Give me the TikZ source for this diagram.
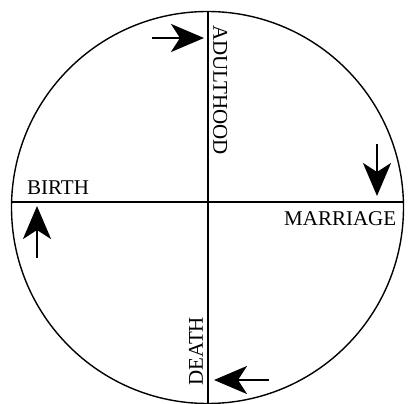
\documentclass[tikz,border=0pt]{standalone}
\usepackage{fontspec}
\setmainfont{Liberation Serif}
\usetikzlibrary{arrows.meta}
\begin{document}
\begin{tikzpicture}[x=1pt,y=1pt,
  ring/.style={line width=1.4pt},
  axis/.style={line width=1.3pt},
  bigarrow/.style={line width=2.4pt,-{Stealth[length=33pt,width=28pt,inset=9pt]}},
  lab/.style={font=\fontsize{21}{21}\selectfont,inner sep=0pt}]
\useasboundingbox (0,0) rectangle (408,-404);
\coordinate (c) at (207.5,-207.5);
\draw[ring] (c) circle (196);
% axes
\coordinate (top) at (208,-11.5);
\coordinate (bot) at (208,-403.5);
\coordinate (lft) at (11.58,-202);
\coordinate (rgt) at (403.42,-202);
\draw[axis] (top) -- (bot);
\draw[axis] (lft) -- (rgt);
% labels
\node[lab,rotate=-90,anchor=south west] (adult) at (213,-25) {ADULTHOOD};
\node[lab,anchor=south west] (birth) at (27,-195) {BIRTH};
\node[lab,anchor=north west] (marr) at (284,-211) {MARRIAGE};
\node[lab,rotate=90,anchor=south west] (death) at (203,-386) {DEATH};
% arrows
\coordinate (a1s) at (152,-38); \coordinate (a1e) at (204,-38);
\coordinate (a2s) at (377,-144); \coordinate (a2e) at (377,-196);
\coordinate (a3s) at (269,-380); \coordinate (a3e) at (214,-380);
\coordinate (a4s) at (37,-258); \coordinate (a4e) at (37,-206);
\draw[bigarrow] (a1s) -- (a1e);
\draw[bigarrow] (a2s) -- (a2e);
\draw[bigarrow] (a3s) -- (a3e);
\draw[bigarrow] (a4s) -- (a4e);
\end{tikzpicture}
\end{document}
